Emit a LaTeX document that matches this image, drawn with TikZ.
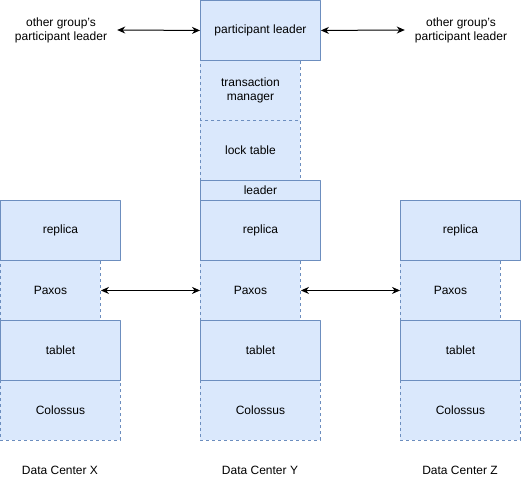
\documentclass[tikz,border=0pt]{standalone}
\usepackage{fontspec}
\setmainfont{Liberation Sans}
\usetikzlibrary{arrows.meta,positioning}

\definecolor{boxfill}{HTML}{DAE8FC}
\definecolor{boxline}{HTML}{6C8EBF}

\tikzset{
  layer/.style={draw=boxline, fill=boxfill, line width=0.9pt, minimum height=60, inner sep=0pt,
    anchor=north west, align=center, font=\fontsize{12}{14}\selectfont},
  solidlayer/.style={layer, minimum width=120},
  dashlayer/.style={layer, minimum width=100, dash pattern=on 3pt off 3pt},
  plaintext/.style={align=center, inner sep=0pt, font=\fontsize{12}{14}\selectfont},
  link/.style={{Stealth[length=8pt,width=7pt]}-{Stealth[length=8pt,width=7pt]}, black, line width=1pt},
}

\begin{document}
\begin{tikzpicture}[x=1pt,y=-1pt,line join=round]
  \useasboundingbox (0,0) rectangle (521,481);

  % coordinator stack on top of data center Y
  \node[dashlayer] (txmgr) at (200,60) {transaction\\manager};
  \node[dashlayer] (locktab) at (200,120) {lock table};
  \node[solidlayer] (partleader) at (200,0) {participant leader};
  \node[solidlayer, minimum height=20] (leader) at (200,180) {leader};

  % one column per data center
  \foreach \dx/\dc in {0/X,200/Y,400/Z}{
    \node[dashlayer] (paxos\dc) at (\dx,260) {Paxos};
    \node[dashlayer, minimum width=120] (colossus\dc) at (\dx,380) {Colossus};
    \node[solidlayer] (replica\dc) at (\dx,200) {replica};
    \node[solidlayer] (tablet\dc) at (\dx,320) {tablet};
    \node[plaintext] (label\dc) at (\dx+60,470) {Data Center \dc};
  }

  % other groups
  \node[plaintext, inner xsep=10pt] (otherleft) at (61,30) {other group's\\participant leader};
  \node[plaintext, inner xsep=10pt] (otherright) at (461,30) {other group's\\participant leader};

  % links
  \draw[link] (otherleft.east) -- (partleader.west);
  \draw[link] (partleader.east) -- (otherright.west);
  \draw[link] (paxosX.east) -- (paxosY.west);
  \draw[link] (paxosY.east) -- (paxosZ.west);
\end{tikzpicture}
\end{document}
